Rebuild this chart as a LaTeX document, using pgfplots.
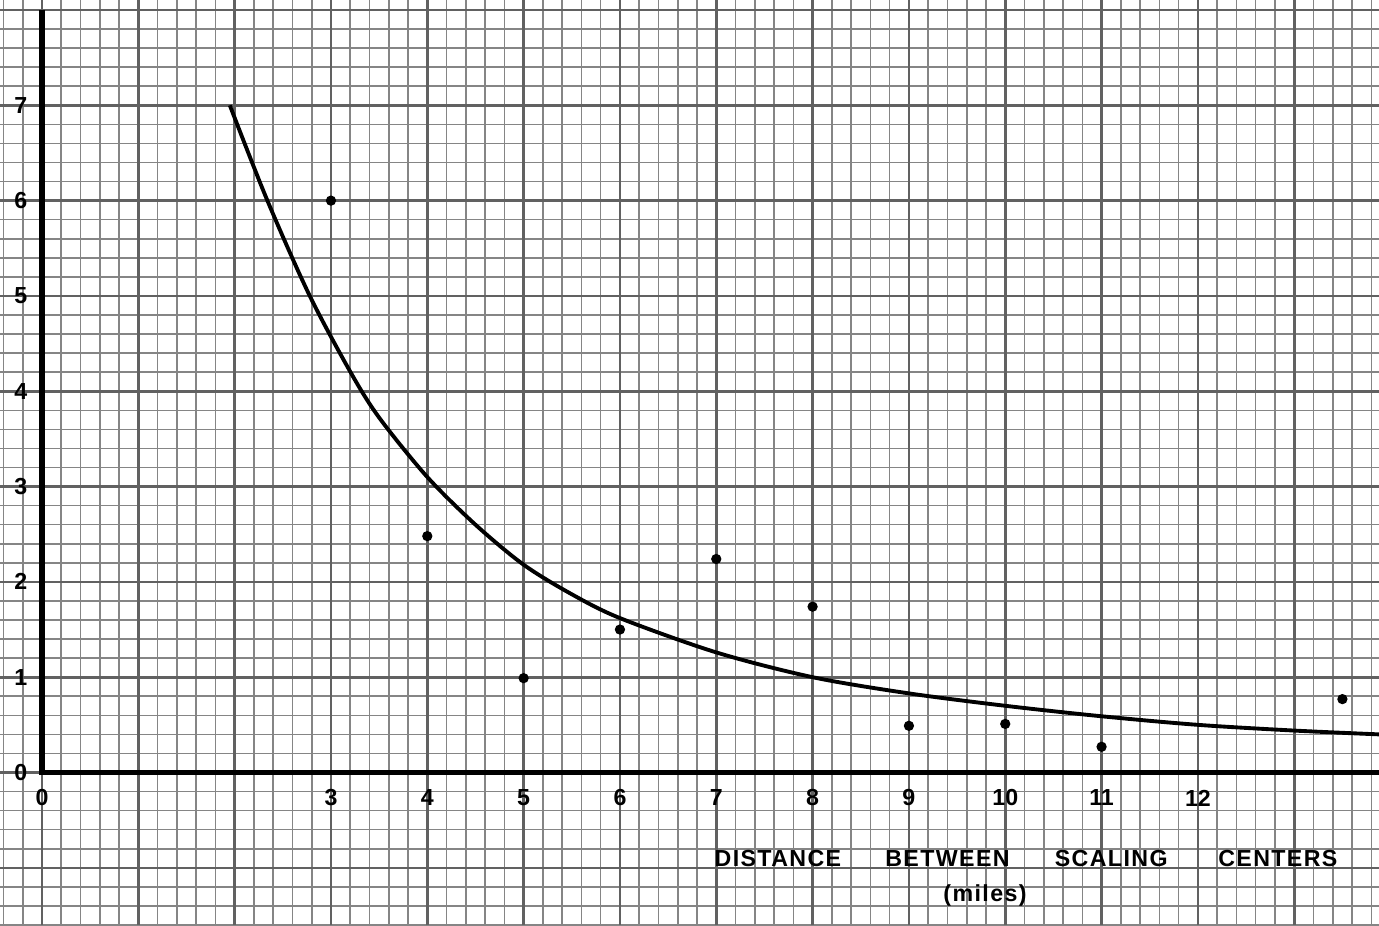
\documentclass[border=0pt]{standalone}
\usepackage{pgfplots}
\pgfplotsset{compat=1.18}
\usepackage{fontspec}
\setmainfont{Liberation Sans}
\newfontfamily\lettering[LetterSpace=6]{Liberation Sans}
\begin{document}
\begin{tikzpicture}
\begin{axis}[
  width=13.79cm, height=9.25cm, scale only axis,
  xmin=-0.436, xmax=13.88, ymin=-1.6, ymax=8.105,
  axis line style={draw=none},
  xtick={-0.4,-0.2,...,13.81},
  ytick={-1.6,-1.4,...,8.01},
  xticklabels={}, yticklabels={},
  extra x ticks={0,1,2,3,4,5,6,7,8,9,10,11,12,13},
  extra x tick labels={0,,,3,4,5,6,7,8,9,10,11,12,},
  extra y ticks={-1,0,1,2,3,4,5,6,7,8},
  extra y tick labels={,0,1,2,3,4,5,6,7,},
  major tick length=0pt, minor tick length=0pt,
  tick style={draw=none},
  grid=major,
  major grid style={black!48, line width=0.45pt},
  extra x tick style={major grid style={black!62, line width=0.75pt},
    xticklabel style={anchor=center, yshift=1.27cm, font=\bfseries\fontsize{6.6}{8}\selectfont}},
  extra y tick style={major grid style={black!62, line width=0.75pt},
    yticklabel style={anchor=center, xshift=0.208cm, font=\bfseries\fontsize{6.6}{8}\selectfont}},
  clip=true,
]
% axes
\addplot[black, line width=1.5pt] coordinates {(0,8.0) (0,0) (13.88,0)};
% fitted curve
\addplot[black, line width=1.1pt, smooth] coordinates {
  (1.95,7.0) (2.34,6.0) (2.78,5.0) (3.22,4.17) (3.51,3.71)
  (4.0,3.10) (4.5,2.60) (5.0,2.18) (5.5,1.87) (6.0,1.62) (7.0,1.26)
  (8.0,1.0) (9.0,0.83) (10.0,0.70) (11.0,0.59) (12.0,0.50) (13.0,0.44) (13.88,0.40)
};
% observations
\addplot[only marks, mark=*, mark size=1.25pt, black] coordinates {
  (3,6.0) (4,2.48) (5,0.99) (6,1.5) (7,2.24) (8,1.74) (9,0.49) (10,0.51) (11,0.27) (13.5,0.77)
};
\node[font=\lettering\bfseries\fontsize{6.6}{8}\selectfont] at (axis cs:7.64,-0.9) {DISTANCE};
\node[font=\lettering\bfseries\fontsize{6.6}{8}\selectfont] at (axis cs:9.40,-0.9) {BETWEEN};
\node[font=\lettering\bfseries\fontsize{6.6}{8}\selectfont] at (axis cs:11.10,-0.9) {SCALING};
\node[font=\lettering\bfseries\fontsize{6.6}{8}\selectfont] at (axis cs:12.83,-0.9) {CENTERS};
\node[font=\lettering\bfseries\fontsize{6.6}{8}\selectfont] at (axis cs:9.79,-1.29) {(miles)};
\end{axis}
\pgfresetboundingbox
\useasboundingbox (current axis.south west) rectangle (current axis.north east);
\end{tikzpicture}
\end{document}
